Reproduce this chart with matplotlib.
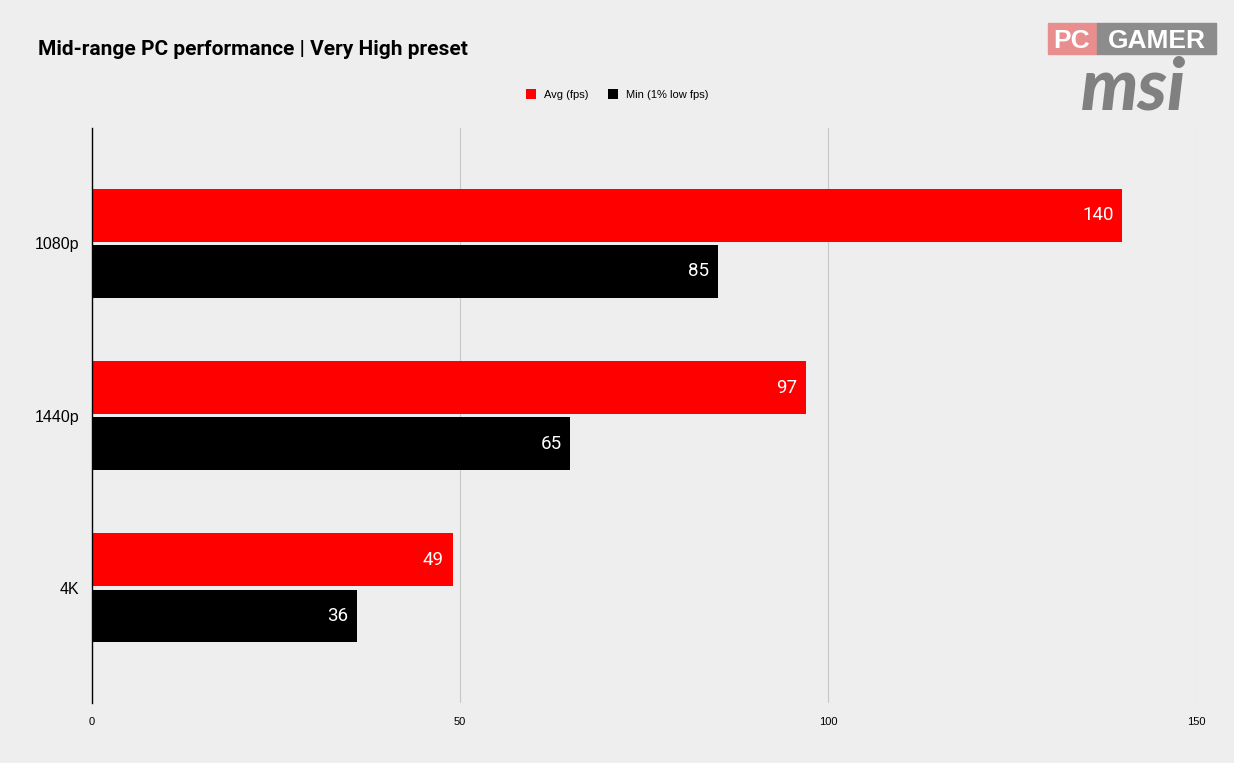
import matplotlib.pyplot as plt
import numpy as np

categories = ["1080p", "1440p", "4K"]
avg_fps = [140, 97, 49]
min_fps = [85, 65, 36]
x_ticks = [0, 50, 100, 150]

plt.rcParams['font.family'] = ['Roboto', 'DejaVu Sans']
arial = ['Liberation Sans', 'DejaVu Sans']

bg = "#eeeeee"
fig = plt.figure(figsize=(12.34, 7.63), dpi=100, facecolor=bg)
ax = fig.add_axes([0.0746, 0.0786, 0.8946, 0.7536], facecolor=bg)

y = np.arange(len(categories))
h = 0.307
gap = 0.009
ax.barh(y - h / 2 - gap, avg_fps, height=h, color="#ff0000", label="Avg (fps)", zorder=3)
ax.barh(y + h / 2 + gap, min_fps, height=h, color="#000000", label="Min (1% low fps)", zorder=3)

for yi, a, m in zip(y, avg_fps, min_fps):
    ax.text(a - 1.2, yi - h / 2 - gap, str(a), color="white", fontsize=13.5,
            ha="right", va="center", zorder=4)
    ax.text(m - 1.2, yi + h / 2 + gap, str(m), color="white", fontsize=13.5,
            ha="right", va="center", zorder=4)

ax.set_xlim(0, 150)
ax.set_ylim(2.667, -0.667)
ax.set_xticks(x_ticks)
ax.set_xticklabels([str(t) for t in x_ticks], fontsize=8, family=arial)
ax.set_yticks(y)
ax.set_yticklabels(categories, fontsize=11.5, family=arial)
ax.tick_params(length=0, pad=9)
ax.tick_params(axis="x", pad=10)
ax.grid(axis="x", color="#c8c8c8", linewidth=0.8, zorder=0)
for s in ["top", "right", "bottom"]:
    ax.spines[s].set_visible(False)
ax.spines["left"].set_color("black")
ax.spines["left"].set_linewidth(1)
ax.spines["left"].set_zorder(5)

fig.text(0.0308, 0.935, "Mid-range PC performance | Very High preset", fontsize=15,
         fontweight="bold", ha="left", va="center")

leg = fig.legend(loc="center", bbox_to_anchor=(0.5, 0.876), ncol=2, frameon=False,
                 prop={"family": arial, "size": 8}, handlelength=0.9, handleheight=0.9,
                 handletextpad=0.7, columnspacing=1.8)

# logo
fig.patches.append(plt.Rectangle((1048 / 1234, 1 - 54 / 763), 49 / 1234, 31 / 763,
                                 transform=fig.transFigure, color="#e88e8e", figure=fig))
fig.patches.append(plt.Rectangle((1097 / 1234, 1 - 54 / 763), 119 / 1234, 31 / 763,
                                 transform=fig.transFigure, color="#8c8c8c", figure=fig))
fig.text(1072 / 1234, 1 - 48 / 763, "PC", color="white", fontsize=19, fontweight="heavy",
         family=arial, ha="center", va="baseline")
fig.text(1157 / 1234, 1 - 48 / 763, "GAMER", color="white", fontsize=19, fontweight="heavy",
         family=arial, ha="center", va="baseline")
fig.text(1133 / 1234, 1 - 109 / 763, "msi", color="#808080", fontsize=52, fontweight="black",
         style="italic", family=["Lato", "DejaVu Sans"], ha="center", va="baseline")

fig.savefig("out.png", dpi=100, facecolor=bg)
